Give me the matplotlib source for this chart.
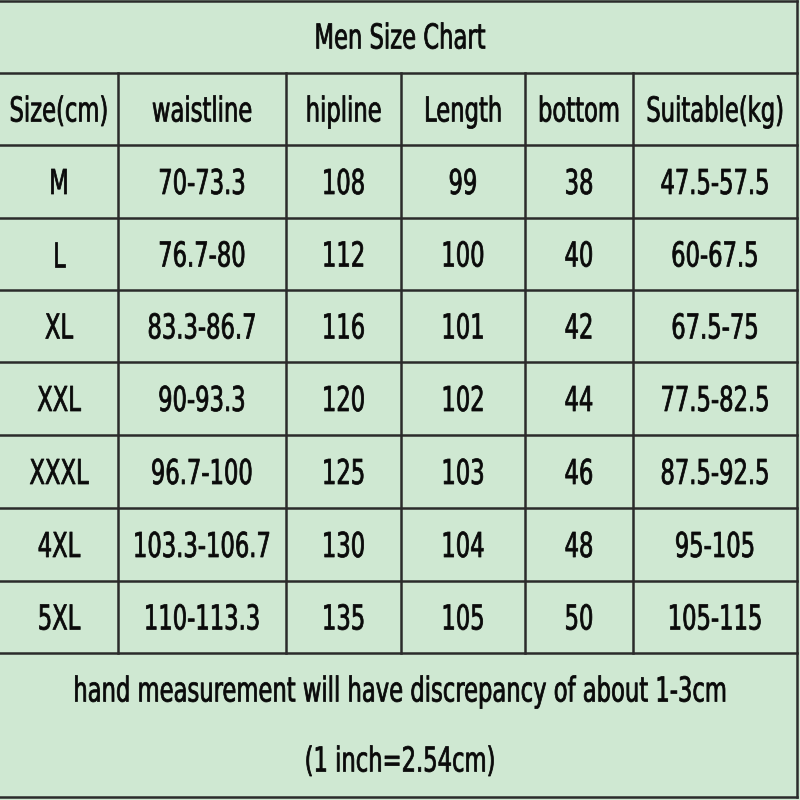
import os
import matplotlib
matplotlib.use("Agg")
import matplotlib.pyplot as plt
from matplotlib import font_manager as fm
from matplotlib.patheffects import AbstractPathEffect
from matplotlib.transforms import Affine2D
from matplotlib.textpath import TextPath

# ---- data ----
title = "Men Size Chart"
headers = ["Size(cm)", "waistline", "hipline", "Length", "bottom", "Suitable(kg)"]
sizes = ["M", "L", "XL", "XXL", "XXXL", "4XL", "5XL"]
waistline = ["70-73.3", "76.7-80", "83.3-86.7", "90-93.3", "96.7-100", "103.3-106.7", "110-113.3"]
hipline = ["108", "112", "116", "120", "125", "130", "135"]
length = ["99", "100", "101", "102", "103", "104", "105"]
bottom = ["38", "40", "42", "44", "46", "48", "50"]
suitable = ["47.5-57.5", "60-67.5", "67.5-75", "77.5-82.5", "87.5-92.5", "95-105", "105-115"]
footer = ["hand measurement will have discrepancy of about 1-3cm", "(1 inch=2.54cm)"]

# ---- style / layout ----
BG = "#cfe8d2"
LINE = "#2b2b2b"
TXT = "#0a0a0a"
DPI = 100
TITLE_W_PX = 171.0   # rendered width of the title in the reference
CAP_PX = 25.0        # cap height in the reference

col_edges = [0, 118, 286, 401, 525, 633, 797]
row_edges = [73, 145, 218, 290, 362, 435, 508, 581, 653]


def pick_narrow_font():
    bad = ("bold", "italic", "oblique", "light", "thin", "medium", "semi", "extra",
           "black", "heavy", "mono", "serif", "cjk", "display", "ultra")
    prefs = ("liberation sans narrow", "liberationsansnarrow-regular",
             "dejavusanscondensed.ttf", "notosans-condensed", "roboto condensed",
             "robotocondensed-regular", "open sans condensed", "opensans_condensed")
    cands = []
    for f in fm.fontManager.ttflist:
        key = (f.name + " " + os.path.basename(f.fname)).lower()
        if not ("narrow" in key or "condensed" in key):
            continue
        if any(b in key.replace(f.name.lower(), "") for b in bad) or any(
                b in f.name.lower() for b in ("mono", "serif", "cjk", "display")):
            continue
        if f.style != "normal":
            continue
        try:
            if int(f.weight) != 400:
                continue
        except (TypeError, ValueError):
            if str(f.weight) not in ("normal", "regular", "book"):
                continue
        cands.append((key, f.fname))
    for p in prefs:
        for key, fname in cands:
            if p in key:
                return fname
    return cands[0][1] if cands else None


narrow = pick_narrow_font()
if narrow:
    base_fp = fm.FontProperties(fname=narrow)
else:
    base_fp = fm.FontProperties(family="DejaVu Sans")


class VStretch(AbstractPathEffect):
    """Stretch glyphs vertically about their baseline, with a slight outline."""
    def __init__(self, sy, lw):
        super().__init__()
        self.sy = sy
        self.lw = lw

    def draw_path(self, renderer, gc, tpath, affine, rgbFace=None):
        aff = Affine2D().scale(1, self.sy) + affine
        gc0 = renderer.new_gc()
        gc0.copy_properties(gc)
        if rgbFace is not None:
            gc0.set_foreground(rgbFace)
        gc0.set_linewidth(self.lw)
        renderer.draw_path(gc0, tpath, aff, rgbFace)
        gc0.restore()


fig = plt.figure(figsize=(8, 8), dpi=DPI, facecolor=BG)
ax = fig.add_axes([0, 0, 1, 1])
ax.set_facecolor(BG)
ax.set_xlim(0, 800)
ax.set_ylim(800, 0)
ax.axis("off")

# choose font size from the title width, and vertical stretch from cap height
fp0 = base_fp.copy()
fp0.set_size(20)
probe = ax.text(0, 0, title, fontproperties=fp0)
w0 = probe.get_window_extent(renderer=fig.canvas.get_renderer()).width
probe.remove()
FS = 20 * TITLE_W_PX / w0
fp = base_fp.copy()
fp.set_size(FS)
cap_px = TextPath((0, 0), "H", size=FS, prop=fp).get_extents().height * DPI / 72.0
SY = max(1.0, min(1.6, CAP_PX / cap_px))
pe = [VStretch(SY, 0.55)]

lw = 1.8
ax.plot([0, 797], [1, 1], color=LINE, lw=lw)
ax.plot([797, 797], [1, 797], color=LINE, lw=lw)
ax.plot([0, 797], [797, 797], color=LINE, lw=lw)
for y in row_edges:
    ax.plot([0, 797], [y, y], color=LINE, lw=lw)
for x in col_edges[1:-1]:
    ax.plot([x, x], [row_edges[0], row_edges[-1]], color=LINE, lw=lw)


def put(x, y_center, s):
    ax.text(x, y_center + CAP_PX / 2, s, ha="center", va="baseline",
            fontproperties=fp, color=TXT, path_effects=pe)


put(400, 36, title)

col_centers = [(col_edges[i] + col_edges[i + 1]) / 2 for i in range(len(col_edges) - 1)]
hc = (row_edges[0] + row_edges[1]) / 2
for cx, h in zip(col_centers, headers):
    put(cx, hc, h)

columns = [sizes, waistline, hipline, length, bottom, suitable]
for r in range(len(sizes)):
    rc = (row_edges[r + 1] + row_edges[r + 2]) / 2
    for cx, col in zip(col_centers, columns):
        put(cx, rc, col[r])

put(400, 689, footer[0])
put(400, 759, footer[1])

fig.savefig("out.png", dpi=DPI, facecolor=BG)
